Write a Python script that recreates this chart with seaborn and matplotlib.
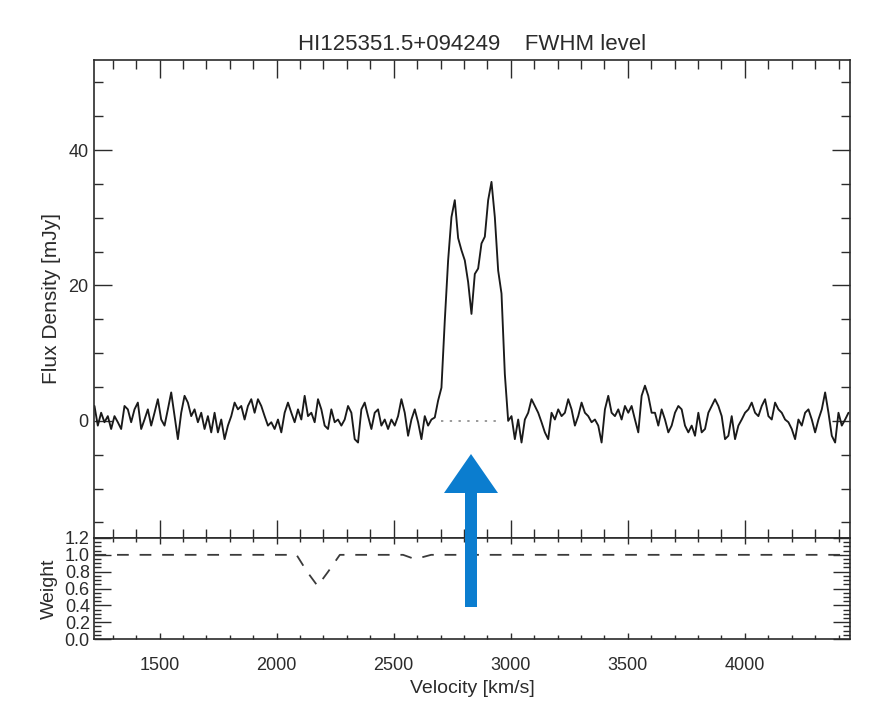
import numpy as np
import pandas as pd
import matplotlib
matplotlib.use("Agg")
import matplotlib.pyplot as plt
from matplotlib.ticker import MultipleLocator
from matplotlib.patches import Polygon
import seaborn as sns

# ---- spectrum: HI flux density per channel -------------------------------
V_START = 1222.0      # km/s, first channel
V_STEP = 14.25        # km/s, channel width

flux_blue_side = [
    2.2, -0.7, 1.2, -0.2, 0.7, -1.2, 0.7, -0.2, -1.2, 2.2, 1.7, -0.2, 1.7, 2.7,
    -1.2, 0.2, 1.7, -0.7, 1.2, 3.2, 0.2, -0.7, 1.7, 4.2, 0.7, -2.7, 1.2, 3.7,
    2.7, 0.7, 1.7, -0.2, 1.2, -1.2, 0.7, -1.7, 1.2, -1.7, 0.2, -2.7, -0.7, 0.7,
    2.7, 1.7, 2.2, 0.2, 2.2, 3.2, 1.2, 3.2, 2.2, 0.7, -0.7,
    -0.2, -1.2, 0.2, -1.7, 1.2, 2.7, 1.2, -0.2, 1.7, 0.2, 3.7, 0.7, 1.2, -0.2,
    3.2, 1.7, -0.7, -1.2, 1.7, -0.2, 0.2, -0.7, 0.2, 2.2, 1.2, -2.7, -3.2, 1.7,
    2.7, 0.7, -1.2, 1.2, 1.7, -0.7, 0.2, -1.2, 0.2, -0.7, 0.7, 3.2, 1.2, -2.2,
    0.2, 1.7, -0.2, -2.7, 0.7, -0.7, 0.2,
]
flux_line = [
    0.5, 3.0, 4.9, 14.8, 23.7, 30.1, 32.6, 27.0, 25.2, 23.7, 20.5, 15.8, 21.7,
    22.5, 26.2, 27.2, 32.6, 35.3, 30.1, 22.2, 18.8, 6.9, 0.0,
]
flux_red_side = [
    0.7, -2.7, 0.2, -3.2, 0.2, 1.2, 3.2, 2.2, 1.2, -0.2, -1.7, -2.7, 1.2, 0.2,
    1.7, 0.7, 1.2, 3.2, 1.7, -0.7, 0.7, 2.7, 1.2, 0.7, -0.2, 0.2, -0.7, -3.2,
    1.7, 3.7, 1.2, 0.7, 1.7, 0.2, 2.2, 1.2, 2.2, 0.2, -1.7, 3.7, 5.2, 3.7, 1.2,
    1.2, -0.7, 1.7, 0.2, -1.7, -0.7, 1.2, 2.2,
    1.7, -0.7, -1.7, -0.7, -2.2, 1.2, -1.7, -1.2, 1.2, 2.2, 3.2, 2.2, 0.7, -2.7,
    -2.2, 0.7, -2.7, -0.7, 0.2, 1.2, 1.7, 2.7, 1.2, 0.7, 2.2, 3.2, 0.7, 0.2, 2.7,
    1.7, 1.2, 0.2, -0.2, -1.2, -2.7, 0.2, -0.7, 1.2, 1.7, 0.2, -1.7, 0.2, 1.7,
    4.2, 1.2, -2.2, -3.2, 1.2, -0.7, 0.2, 1.2,
]

# FWHM level marker under the line profile
fwhm_velocity = [2700, 2960]
fwhm_level = [0.0, 0.0]

# ---- weight spectrum ------------------------------------------------------
weight_velocity = [1222, 2085, 2130, 2175, 2220, 2270, 2540, 2580, 2620, 2660, 4449]
weight_value = [1.0, 1.0, 0.80, 0.63, 0.80, 1.0, 1.0, 0.96, 0.97, 1.0, 1.0]

title = "HI125351.5+094249    FWHM level"
x_ticks = [1500, 2000, 2500, 3000, 3500, 4000]
flux_ticks = [0, 20, 40]
weight_ticks = [0.0, 0.2, 0.4, 0.6, 0.8, 1.0, 1.2]

flux = flux_blue_side + flux_line + flux_red_side
velocity = V_START + V_STEP * np.arange(len(flux))
spec = pd.DataFrame({"velocity": velocity, "flux": flux})
wdf = pd.DataFrame({"velocity": weight_velocity, "weight": weight_value})
fdf = pd.DataFrame({"velocity": fwhm_velocity, "flux": fwhm_level})

# ---- style ----------------------------------------------------------------
sns.set_style("ticks")
plt.rcParams["font.family"] = ["Liberation Sans", "DejaVu Sans"]
INK = "#2b2b2b"
plt.rcParams.update({
    "axes.edgecolor": INK, "axes.linewidth": 1.2,
    "xtick.color": INK, "ytick.color": INK,
    "text.color": INK, "axes.labelcolor": INK,
    "xtick.labelcolor": INK, "ytick.labelcolor": INK,
})

W, H = 883, 728
fig = plt.figure(figsize=(W / 100, H / 100), dpi=100)
fig.patch.set_facecolor("white")

def box(left, top, right, bottom):
    return [left / W, 1 - bottom / H, (right - left) / W, (bottom - top) / H]

ax = fig.add_axes(box(94, 60, 850, 538))
axw = fig.add_axes(box(94, 538, 850, 639), sharex=ax)

XLIM = (1220, 4449)

# top panel: flux density
sns.lineplot(data=spec, x="velocity", y="flux", ax=ax, color="#1a1a1a",
             linewidth=1.35, estimator=None, sort=False)
sns.lineplot(data=fdf, x="velocity", y="flux", ax=ax, color="#9a9a9a",
             linewidth=1.4, linestyle=(0, (1.2, 3.3)), estimator=None)
ax.set_xlim(*XLIM)
ax.set_ylim(-17.3, 53.3)
ax.set_yticks(flux_ticks)
ax.yaxis.set_minor_locator(MultipleLocator(5))
ax.set_xticks(x_ticks)
ax.xaxis.set_minor_locator(MultipleLocator(100))
ax.tick_params(which="both", direction="in", top=True, right=True,
               labelbottom=False, labelsize=13, pad=4)
ax.tick_params(which="major", length=13, width=1.0)
ax.tick_params(which="minor", length=6.5, width=1.0)
ax.set_xlabel("")
ax.set_ylabel("Flux Density [mJy]", fontsize=15, labelpad=5)
ax.set_title(title, fontsize=16, pad=7)

# bottom panel: weights
sns.lineplot(data=wdf, x="velocity", y="weight", ax=axw, color="#3a3a3a",
             linewidth=1.3, linestyle=(0, (6.5, 6.0)), estimator=None)
axw.set_xlim(*XLIM)
axw.set_ylim(0, 1.2)
axw.set_yticks(weight_ticks)
axw.set_yticklabels([f"{t:.1f}" for t in weight_ticks])
axw.yaxis.set_minor_locator(MultipleLocator(0.05))
axw.set_xticks(x_ticks)
axw.xaxis.set_minor_locator(MultipleLocator(100))
axw.tick_params(which="both", direction="in", top=True, right=True,
                labelsize=13)
axw.tick_params(axis="y", which="major", length=12, width=1.0, pad=3)
axw.tick_params(axis="y", which="minor", length=5, width=1.0)
axw.tick_params(axis="x", which="major", length=4.5, width=1.0, pad=13)
axw.tick_params(axis="x", which="minor", length=3, width=1.0)
axw.set_xlabel("Velocity [km/s]", fontsize=14, labelpad=4)
axw.set_ylabel("Weight", fontsize=14, labelpad=5)

# pointer marking the FWHM level
def px(x, y):
    return (x / W, 1 - y / H)

arrow = Polygon([px(465, 607), px(477, 607), px(477, 493), px(498, 493),
                 px(471, 454), px(444, 493), px(465, 493)],
                closed=True, transform=fig.transFigure, facecolor="#0b7dcf",
                edgecolor="none", zorder=10)
fig.patches.append(arrow)

fig.savefig("out.png", dpi=100, facecolor="white")
